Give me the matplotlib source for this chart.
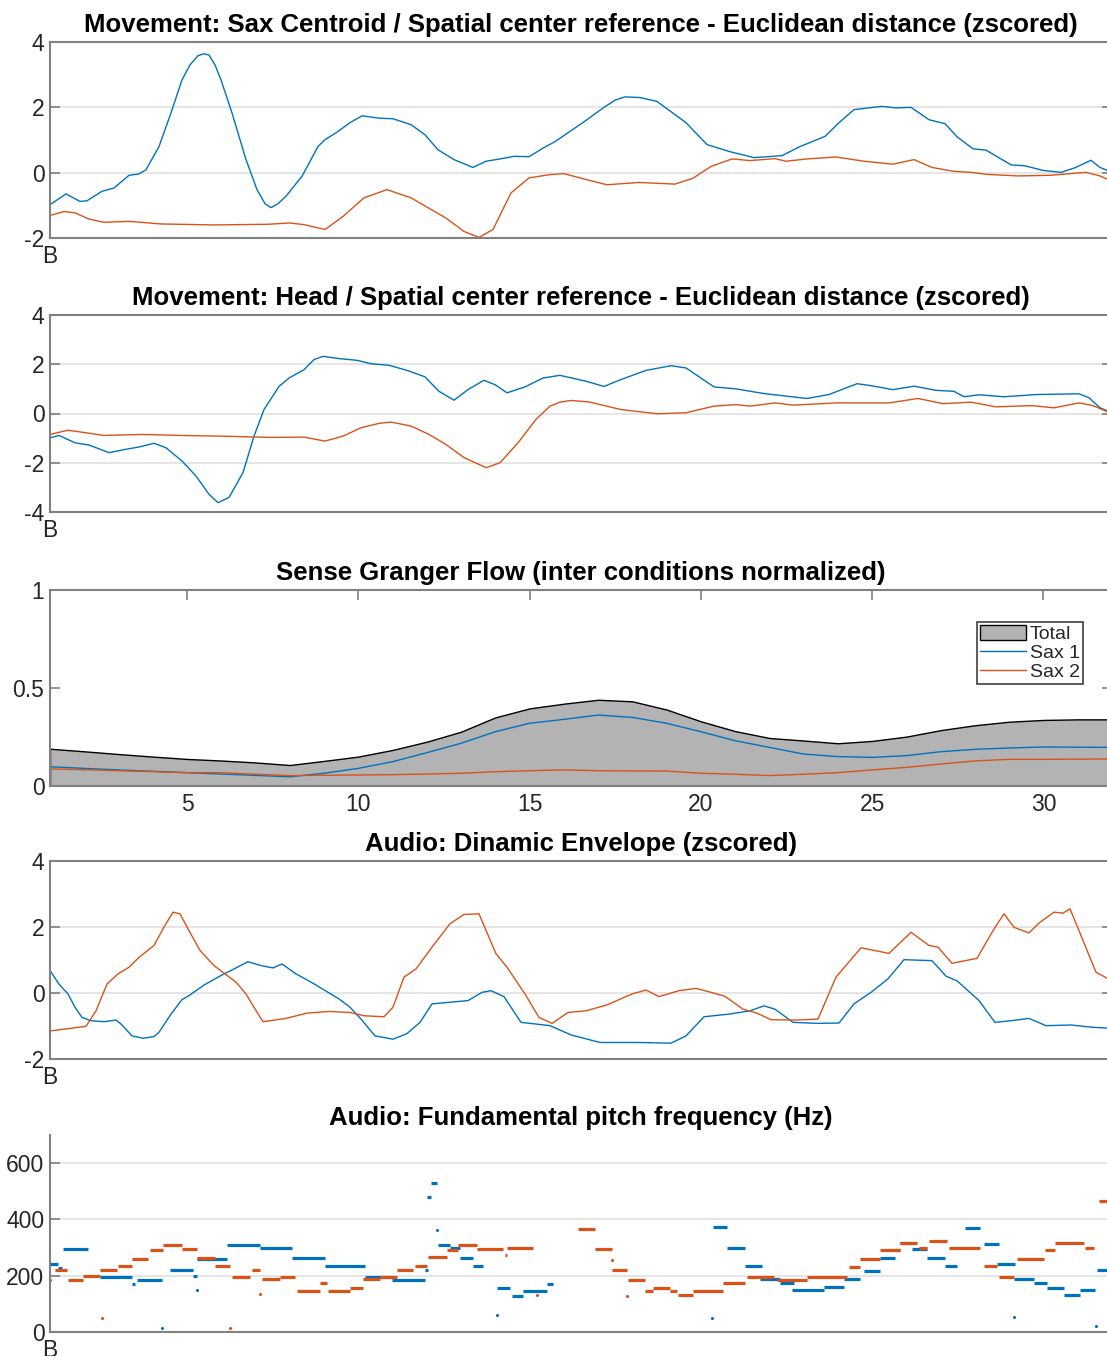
import numpy as np
import matplotlib.pyplot as plt

plt.rcParams['font.family'] = ['Liberation Sans', 'DejaVu Sans']
plt.rcParams['axes.unicode_minus'] = False

BLUE = '#0072BD'
ORANGE = '#D95319'
FRAME = '#808080'
TEXT = '#262626'
GRID = '#e3e3e3'

# ---- data (frame index along the piece) ----
# Movement: sax centroid distance (zscored)
centroid_sax1 = [(0, -0.98), (16, -0.65), (30, -0.88), (37, -0.86), (52, -0.57), (64, -0.47),
                 (79, -0.08), (89, -0.04), (96, 0.09), (109, 0.8), (121, 1.83), (132, 2.84),
                 (140, 3.3), (148, 3.58), (154, 3.64), (159, 3.6), (165, 3.3), (171, 2.84),
                 (182, 1.83), (196, 0.4), (207, -0.52), (215, -0.95), (221, -1.07), (228, -0.95),
                 (236, -0.72), (252, -0.11), (268, 0.8), (275, 1.01),
                 (286, 1.22), (300, 1.53), (312, 1.74), (329, 1.67), (343, 1.65), (361, 1.47),
                 (375, 1.16), (388, 0.7), (404, 0.4), (423, 0.16), (436, 0.35), (450, 0.42),
                 (464, 0.5), (479, 0.49), (493, 0.75), (505, 0.95), (518, 1.22), (536, 1.6),
                 (554, 2.0), (565, 2.22), (575, 2.32), (590, 2.3), (607, 2.18), (636, 1.53),
                 (657, 0.86), (679, 0.65),
                 (704, 0.46), (732, 0.52), (750, 0.8), (775, 1.11), (789, 1.53), (804, 1.93),
                 (832, 2.03), (846, 1.98), (861, 2.0), (879, 1.62), (895, 1.5), (907, 1.1),
                 (923, 0.73), (936, 0.69), (961, 0.24), (975, 0.21), (993, 0.07), (1011, 0.01),
                 (1025, 0.15), (1041, 0.38), (1050, 0.16), (1062, 0.01)]
centroid_sax2 = [(0, -1.31), (14, -1.19), (25, -1.23), (39, -1.42), (54, -1.52), (79, -1.49),
                 (111, -1.57), (164, -1.6), (218, -1.58), (239, -1.54), (254, -1.59), (275, -1.74),
                 (293, -1.34), (314, -0.77), (337, -0.52), (361, -0.77), (396, -1.39), (414, -1.8),
                 (429, -1.98), (443, -1.74), (461, -0.62), (479, -0.16), (500, -0.06), (514, -0.03),
                 (536, -0.21), (557, -0.37), (589, -0.30), (625, -0.35), (643, -0.17), (661, 0.19),
                 (682, 0.42), (700, 0.37), (725, 0.43), (736, 0.35), (757, 0.42), (786, 0.48),
                 (814, 0.35), (843, 0.26), (864, 0.4), (882, 0.16), (904, 0.04), (921, 0.01),
                 (936, -0.05), (968, -0.1), (1000, -0.08), (1036, 0.01), (1050, -0.1), (1062, -0.26)]

# Movement: head distance (zscored)
head_sax1 = [(0, -0.99), (9, -0.89), (25, -1.19), (39, -1.28), (59, -1.59), (75, -1.46),
             (89, -1.36), (104, -1.21), (116, -1.39), (132, -1.93), (146, -2.54), (159, -3.28),
             (168, -3.62), (179, -3.41), (193, -2.4), (204, -0.92), (214, 0.16), (229, 1.1),
             (239, 1.44), (254, 1.78), (264, 2.19), (273, 2.32), (289, 2.23), (307, 2.16),
             (321, 2.02), (339, 1.96), (357, 1.75), (375, 1.49), (389, 0.9), (404, 0.54),
             (418, 0.97), (434, 1.35), (445, 1.17), (457, 0.84), (475, 1.08), (493, 1.44),
             (510, 1.55), (536, 1.31), (554, 1.1), (571, 1.38), (596, 1.75), (621, 1.94),
             (636, 1.85), (664, 1.08), (686, 1.0), (714, 0.81), (757, 0.61), (779, 0.77),
             (807, 1.21), (821, 1.13), (843, 0.97), (864, 1.11), (886, 0.94), (904, 0.9),
             (914, 0.68), (929, 0.76), (954, 0.68), (986, 0.77), (1029, 0.8), (1039, 0.64),
             (1050, 0.23), (1062, 0.03)]
head_sax2 = [(0, -0.85), (18, -0.68), (32, -0.76), (54, -0.89), (93, -0.85), (129, -0.89),
             (171, -0.92), (221, -0.97), (254, -0.96), (275, -1.12), (293, -0.92), (311, -0.58),
             (329, -0.4), (341, -0.35), (361, -0.51), (379, -0.85), (396, -1.26), (414, -1.79),
             (436, -2.2), (450, -2.0), (468, -1.19), (486, -0.24), (500, 0.3), (510, 0.46),
             (521, 0.53), (539, 0.47), (571, 0.16), (607, -0.01), (636, 0.03), (664, 0.3),
             (686, 0.36), (700, 0.3), (725, 0.43), (743, 0.34), (786, 0.43), (839, 0.43),
             (868, 0.61), (893, 0.4), (921, 0.46), (946, 0.27), (982, 0.32), (1004, 0.23),
             (1029, 0.43), (1043, 0.32), (1062, -0.01)]

# Sense Granger flow per window
windows = list(range(1, 33))
flow_total = [0.19, 0.177, 0.163, 0.15, 0.138, 0.13, 0.12, 0.107, 0.128, 0.15, 0.184, 0.226,
              0.277, 0.35, 0.396, 0.42, 0.44, 0.432, 0.39, 0.33, 0.28, 0.245, 0.232, 0.218,
              0.23, 0.252, 0.285, 0.31, 0.328, 0.337, 0.34, 0.34]
flow_sax1 = [0.098, 0.09, 0.082, 0.075, 0.068, 0.061, 0.054, 0.047, 0.065, 0.09, 0.124, 0.17,
             0.218, 0.277, 0.32, 0.34, 0.362, 0.35, 0.32, 0.277, 0.231, 0.197, 0.163, 0.15,
             0.146, 0.155, 0.175, 0.187, 0.194, 0.199, 0.198, 0.197]
flow_sax2 = [0.087, 0.083, 0.078, 0.073, 0.068, 0.068, 0.06, 0.053, 0.055, 0.056, 0.058, 0.061,
             0.065, 0.073, 0.078, 0.082, 0.078, 0.077, 0.076, 0.065, 0.06, 0.053, 0.06, 0.068,
             0.082, 0.095, 0.112, 0.128, 0.136, 0.136, 0.137, 0.138]

# Audio: dynamic envelope (zscored)
env_sax1 = [(0, 0.68), (9, 0.27), (18, -0.03), (25, -0.43), (32, -0.74), (41, -0.84), (54, -0.87),
            (66, -0.82), (71, -0.94), (82, -1.3), (93, -1.37), (104, -1.32), (109, -1.19),
            (121, -0.64), (132, -0.2), (139, -0.08), (154, 0.24), (171, 0.53), (186, 0.76),
            (198, 0.95), (211, 0.83), (223, 0.76), (232, 0.88), (246, 0.58), (261, 0.33),
            (271, 0.15), (289, -0.18), (300, -0.43), (311, -0.79), (325, -1.3), (343, -1.4),
            (357, -1.23), (370, -0.89), (382, -0.33), (396, -0.29), (418, -0.23), (432, 0.02),
            (441, 0.07), (454, -0.11), (471, -0.89), (486, -0.94), (500, -0.99), (521, -1.27),
            (550, -1.5), (589, -1.5), (621, -1.52), (636, -1.3), (654, -0.72), (679, -0.64),
            (700, -0.54), (714, -0.39), (725, -0.49), (743, -0.89), (768, -0.92), (789, -0.91),
            (804, -0.33), (821, 0.02), (838, 0.43), (854, 1.01), (882, 0.98), (896, 0.51),
            (907, 0.37), (929, -0.23), (945, -0.89), (961, -0.84), (979, -0.77), (996, -0.99),
            (1021, -0.97), (1043, -1.04), (1062, -1.07)]
env_sax2 = [(0, -1.15), (21, -1.07), (36, -1.01), (46, -0.54), (57, 0.27), (68, 0.58), (79, 0.78),
            (89, 1.08), (104, 1.44), (114, 2.0), (123, 2.45), (130, 2.4), (139, 1.89), (150, 1.29),
            (164, 0.83), (175, 0.58), (186, 0.33), (196, -0.03), (204, -0.43), (213, -0.87),
            (236, -0.77), (257, -0.61), (279, -0.56), (300, -0.59), (314, -0.69), (334, -0.72),
            (343, -0.43), (354, 0.48), (366, 0.73), (382, 1.39), (400, 2.1), (414, 2.38),
            (429, 2.4), (446, 1.19), (457, 0.78), (475, -0.03), (489, -0.74), (502, -0.92),
            (518, -0.59), (536, -0.54), (557, -0.36), (582, -0.03), (596, 0.09), (609, -0.11),
            (629, 0.07), (646, 0.14), (661, 0.02), (675, -0.1), (693, -0.49), (707, -0.61),
            (721, -0.81), (746, -0.82), (768, -0.79), (786, 0.48), (811, 1.37), (839, 1.2),
            (861, 1.84), (879, 1.44), (888, 1.39), (902, 0.9), (927, 1.05), (943, 1.89),
            (954, 2.4), (964, 1.99), (979, 1.82), (989, 2.12), (1004, 2.45), (1013, 2.42),
            (1020, 2.55), (1029, 1.89), (1046, 0.63), (1062, 0.37)]

# Audio: fundamental pitch, voiced runs (start frame, end frame, Hz) and stray detections
pitch_sax1_runs = [(0, 8, 240), (8, 12, 228), (13, 38, 295), (50, 82, 195), (82, 85, 170),
                   (87, 112, 185), (120, 143, 219), (143, 147, 200), (147, 177, 260),
                   (177, 210, 310), (210, 242, 298), (242, 275, 263), (275, 315, 233),
                   (315, 342, 197), (342, 375, 185), (375, 378, 220), (377, 381, 480),
                   (381, 387, 530), (388, 400, 308), (400, 410, 298), (410, 423, 263),
                   (423, 433, 233), (447, 460, 157), (462, 473, 127), (473, 497, 145),
                   (497, 503, 170), (663, 677, 372), (677, 695, 298), (695, 712, 233),
                   (710, 730, 187), (730, 744, 175), (742, 774, 148), (774, 794, 160),
                   (794, 810, 187), (814, 830, 215), (830, 845, 263), (845, 850, 293),
                   (850, 862, 316), (862, 877, 296), (877, 895, 263), (895, 907, 234),
                   (915, 930, 370), (934, 949, 311), (947, 965, 243), (964, 984, 187),
                   (984, 997, 175), (997, 1014, 157), (1014, 1030, 133), (1030, 1045, 148),
                   (1047, 1062, 222)]
pitch_sax1_dots = [(147, 150), (112, 15), (387, 363), (447, 60), (662, 50), (964, 53), (1046, 20)]
pitch_sax2_runs = [(5, 17, 220), (18, 33, 185), (33, 50, 198), (50, 67, 220), (68, 82, 233),
                   (82, 98, 260), (100, 113, 293), (113, 132, 310), (132, 147, 296),
                   (147, 165, 263), (165, 180, 233), (182, 200, 195), (202, 210, 220),
                   (212, 230, 187), (230, 245, 195), (247, 270, 147), (270, 277, 174),
                   (278, 300, 147), (300, 313, 157), (313, 330, 190), (330, 347, 195),
                   (347, 363, 220), (365, 377, 233), (378, 397, 266), (397, 408, 293),
                   (408, 427, 310), (427, 453, 296), (455, 457, 275), (457, 483, 298),
                   (528, 545, 367), (545, 562, 296), (562, 577, 219), (578, 595, 185),
                   (595, 603, 147), (603, 620, 157), (620, 627, 147), (628, 643, 130),
                   (643, 673, 147), (673, 695, 174), (697, 724, 195), (727, 757, 185),
                   (757, 797, 195), (799, 810, 231), (810, 830, 260), (830, 850, 293),
                   (850, 867, 316), (869, 877, 298), (879, 897, 322), (899, 930, 298),
                   (934, 947, 233), (949, 964, 195), (967, 994, 260), (995, 1005, 293),
                   (1005, 1034, 316), (1035, 1044, 298), (1049, 1062, 465)]
pitch_sax2_dots = [(0, 185), (52, 51), (180, 15), (210, 135), (487, 133), (562, 257),
                   (577, 127), (697, 0)]

N_FRAMES = 1062
TICK_SIZE = 16.5
TITLE_SIZE = 18.5


def style_ticks(ax, box=True):
    ax.set_axisbelow(True)
    ax.tick_params(direction='in', length=7, width=1.2, colors=FRAME,
                   labelcolor=TEXT, labelsize=TICK_SIZE, right=box, top=box)
    ax.tick_params(axis='y', pad=4)
    ax.tick_params(axis='x', pad=5)
    for s in ax.spines.values():
        s.set_color(FRAME)
        s.set_linewidth(1.5)
    if not box:
        ax.spines['top'].set_visible(False)
        ax.spines['right'].set_visible(False)


def style(ax, ylim, yticks, box=True):
    ax.set_xlim(0, N_FRAMES)
    ax.set_ylim(*ylim)
    ax.set_yticks(yticks)
    ax.set_xticks([0])
    ax.set_xticklabels(['B'])
    style_ticks(ax, box)
    ax.yaxis.grid(True, color=GRID, linewidth=1.3)


def title(ax, text):
    ax.set_title(text, fontsize=TITLE_SIZE, fontweight='bold', color='black', pad=7)


def line(ax, pairs, color):
    x, y = np.array(pairs).T
    ax.plot(x, y, color=color, linewidth=1.0)


fig = plt.figure(figsize=(11.07, 13.56), dpi=100)
left, width = 50 / 1107, 1062 / 1107
rows = [(42, 238), (315, 512), (590, 786), (861, 1059), (1135, 1332)]
axes = [fig.add_axes([left, 1 - b / 1356, width, (b - t) / 1356]) for t, b in rows]

# panel 1
ax = axes[0]
line(ax, centroid_sax1, BLUE)
line(ax, centroid_sax2, ORANGE)
style(ax, (-2, 4), [-2, 0, 2, 4])
title(ax, 'Movement: Sax Centroid / Spatial center reference - Euclidean distance (zscored)')

# panel 2
ax = axes[1]
line(ax, head_sax1, BLUE)
line(ax, head_sax2, ORANGE)
style(ax, (-4, 4), [-4, -2, 0, 2, 4])
title(ax, 'Movement: Head / Spatial center reference - Euclidean distance (zscored)')

# panel 3
ax = axes[2]
ax.fill_between(windows, flow_total, 0, facecolor='#b3b3b3', edgecolor='black',
                linewidth=1.0, label='Total')
ax.plot(windows, flow_sax1, color=BLUE, linewidth=1.0, label='Sax 1')
ax.plot(windows, flow_sax2, color=ORANGE, linewidth=1.0, label='Sax 2')
ax.set_xlim(1, 32)
ax.set_ylim(0, 1)
ax.set_yticks([0, 0.5, 1])
ax.set_yticklabels(['0', '0.5', '1'])
ax.set_xticks([5, 10, 15, 20, 25, 30])
style_ticks(ax)
leg = ax.legend(loc='upper right', bbox_to_anchor=(0.9727, 0.838), borderaxespad=0,
                fontsize=14, frameon=True, fancybox=False, framealpha=1,
                handlelength=2.4, handleheight=0.8, handletextpad=0.2,
                labelspacing=0.05, borderpad=0.15)
leg.get_frame().set_edgecolor('#404040')
leg.get_frame().set_linewidth(1.2)
for t in leg.get_texts():
    t.set_color(TEXT)
title(ax, 'Sense Granger Flow (inter conditions normalized)')

# panel 4
ax = axes[3]
line(ax, env_sax1, BLUE)
line(ax, env_sax2, ORANGE)
style(ax, (-2, 4), [-2, 0, 2, 4])
title(ax, 'Audio: Dinamic Envelope (zscored)')

# panel 5
ax = axes[4]
for runs, dots, color in [(pitch_sax1_runs, pitch_sax1_dots, BLUE),
                          (pitch_sax2_runs, pitch_sax2_dots, ORANGE)]:
    x0, x1, hz = np.array(runs).T
    ax.hlines(hz, x0, x1, colors=color, linewidth=2.3)
    dx, dy = np.array(dots).T
    ax.scatter(dx, dy, s=5, color=color, linewidths=0)
style(ax, (0, 700), [0, 200, 400, 600], box=False)
title(ax, 'Audio: Fundamental pitch frequency (Hz)')

fig.savefig('out.png', dpi=100)
